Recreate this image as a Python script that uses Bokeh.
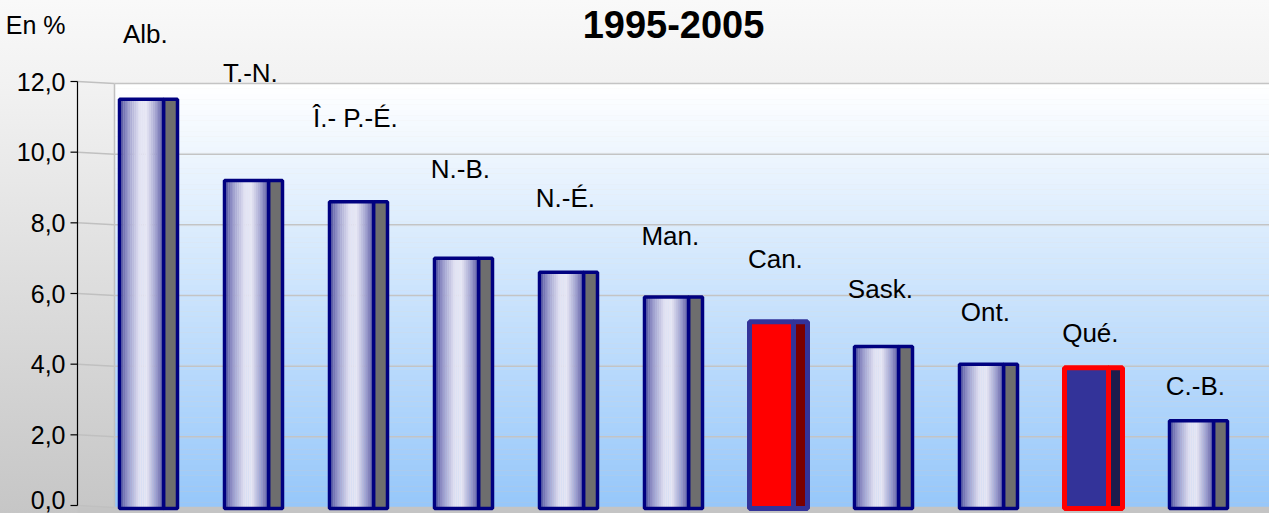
import numpy as np
from bokeh.plotting import figure
from bokeh.models import Range1d, FixedTicker, CustomJSTickFormatter, Label, ColumnDataSource
from bokeh.embed import file_html
from bokeh.resources import INLINE
from bokeh.core.properties import value

# ---------------- data ----------------
categories = ["Alb.", "T.-N.", "Î.- P.-É.", "N.-B.", "N.-É.", "Man.", "Can.", "Sask.", "Ont.", "Qué.", "C.-B."]
values = [11.5, 9.2, 8.6, 7.0, 6.6, 5.9, 5.2, 4.5, 4.0, 3.9, 2.4]
y_ticks = [0, 2, 4, 6, 8, 10, 12]
title_text = "1995-2005"
unit_text = "En %"

# ---------------- layout ----------------
W, H = 1269, 513
LEFT = 70                     # frame starts where the tick marks start
PX_X = 105.0                  # px per category
PX_Y = 424.0 / 12.0           # px per unit
ZERO_PX = 505.0               # screen y of value 0
x_start = -(148.0 - LEFT) / PX_X
x_end = x_start + (W - LEFT) / PX_X
y_start = -(H - ZERO_PX) / PX_Y
y_end = ZERO_PX / PX_Y
axis_x = x_start + 7.0 / PX_X
wall_left = x_start + 44.0 / PX_X
wall_top = max(y_ticks)
drop = 2.0 / PX_Y             # perspective drop of the grid on the wall
unit_pos = (ZERO_PX - 24.0) / PX_Y

# label vertical centres (layout, screen px from the top)
label_mid_px = [33, 72, 117, 168, 197, 235, 258, 288, 311, 332, 385]
label_mid = [(ZERO_PX - v) / PX_Y for v in label_mid_px]

FONT = "Liberation Sans"

p = figure(width=W, height=H, x_range=Range1d(x_start, x_end), y_range=Range1d(y_start, y_end),
           output_backend="svg", toolbar_location=None, x_axis_type=None,
           min_border_left=LEFT, min_border_right=0, min_border_top=0, min_border_bottom=0)
p.border_fill_color = None
p.background_fill_color = None
p.outline_line_color = None
p.styles = {"background": "linear-gradient(to bottom, #f9f9f9 0%, #f1f1f1 18%, #c6c6c6 100%)"}
p.ygrid.visible = False

# wall gradient (white top -> light blue bottom)
n = 80
edges = np.linspace(0, wall_top, n + 1)
top_c = np.array([255, 255, 255])
bot_c = np.array([150, 199, 250])
cols = []
for k in range(n):
    t = (edges[k] + edges[k + 1]) / 2 / wall_top
    c = bot_c + (top_c - bot_c) * t
    cols.append("#%02x%02x%02x" % tuple(int(round(v)) for v in c))
p.quad(left=wall_left, right=x_end, bottom=edges[:-1] - drop, top=edges[1:] - drop, fill_color=cols,
       line_color=None, level="image")

# floor
p.quad(left=[axis_x], right=[x_end], bottom=[y_start], top=[0 - drop], fill_color="#c4c4c4",
       line_color=None, level="image")

# wall left edge
p.segment(x0=[wall_left], y0=[0 - drop], x1=[wall_left], y1=[wall_top - drop], line_color="#c0c0c0",
          line_width=1.5, level="underlay")

# grid lines (slanted part from the axis to the wall, then flat on the wall)
gy = np.array(y_ticks, dtype=float)
p.segment(x0=[axis_x] * len(gy), y0=gy, x1=[wall_left] * len(gy), y1=gy - drop,
          line_color="#c0c0c0", line_width=1.5, level="underlay")
p.segment(x0=[wall_left] * len(gy), y0=gy - drop, x1=[x_end] * len(gy), y1=gy - drop,
          line_color="#c4c4c4", line_width=1.5, level="underlay")

# axis line and tick marks
p.segment(x0=[axis_x], y0=[min(y_ticks)], x1=[axis_x], y1=[max(y_ticks)], line_color="black",
          line_width=1.2, level="guide")
p.segment(x0=[x_start] * len(gy), y0=gy, x1=[axis_x] * len(gy), y1=gy, line_color="black",
          line_width=1.2, level="guide")

# axis labels
ax = p.yaxis[0]
ax.ticker = FixedTicker(ticks=y_ticks + [unit_pos])
ax.formatter = CustomJSTickFormatter(
    args=dict(unit=unit_text, lim=max(y_ticks) + 0.5),
    code="if (tick > lim) { return unit; } return tick.toFixed(1).replace('.', ',');")
ax.axis_line_color = None
ax.major_tick_line_color = None
ax.major_tick_out = 0
ax.major_tick_in = 0
ax.minor_tick_line_color = None
ax.major_label_text_font = FONT
ax.major_label_text_font_size = "25px"
ax.major_label_text_color = "black"
ax.major_label_standoff = 5

# bars
L_OFF, M_OFF, R_OFF = -29.0 / PX_X, 15.0 / PX_X, 29.0 / PX_X
styles = {
    "Can.": dict(solid="#ff0000", side="#7a0000", line="#333399", lw=5),
    "Qué.": dict(solid="#333399", side="#1c1c4c", line="#ff0000", lw=5),
}
default = dict(solid=None, side="#6e6e6e", line="#000080", lw=3.5)

stops_t = [0.0, 0.15, 0.45, 0.62, 0.85, 1.0]
stops_c = [(70, 70, 150), (140, 140, 195), (226, 226, 242), (230, 230, 244), (150, 150, 200), (95, 95, 165)]


def grad(t):
    for j in range(len(stops_t) - 1):
        if stops_t[j] <= t <= stops_t[j + 1]:
            f = (t - stops_t[j]) / (stops_t[j + 1] - stops_t[j])
            a, b = stops_c[j], stops_c[j + 1]
            return "#%02x%02x%02x" % tuple(int(round(a[m] + (b[m] - a[m]) * f)) for m in range(3))
    return "#%02x%02x%02x" % stops_c[-1]


xs = list(range(len(categories)))
side = dict(l=[], r=[], t=[], fc=[], lc=[], lw=[])
strips = dict(l=[], r=[], t=[], fc=[])
outl = dict(l=[], r=[], t=[], lc=[], lw=[])
ns = 24
for i, (cat, v) in enumerate(zip(categories, values)):
    st = styles.get(cat, default)
    x = xs[i]
    side["l"].append(x + M_OFF); side["r"].append(x + R_OFF); side["t"].append(v)
    side["fc"].append(st["side"]); side["lc"].append(st["line"]); side["lw"].append(st["lw"])
    if st["solid"] is None:
        e = np.linspace(x + L_OFF, x + M_OFF, ns + 1)
        for k in range(ns):
            strips["l"].append(e[k]); strips["r"].append(e[k + 1] + 0.002); strips["t"].append(v)
            strips["fc"].append(grad((k + 0.5) / ns))
    else:
        strips["l"].append(x + L_OFF); strips["r"].append(x + M_OFF); strips["t"].append(v)
        strips["fc"].append(st["solid"])
    outl["l"].append(x + L_OFF); outl["r"].append(x + M_OFF); outl["t"].append(v)
    outl["lc"].append(st["line"]); outl["lw"].append(st["lw"])

bar_bottom = -drop * 1.5
s_side = ColumnDataSource(side)
p.quad(left="l", right="r", bottom=bar_bottom, top="t", fill_color="fc", line_color="lc",
       line_width="lw", source=s_side)
s_strip = ColumnDataSource(strips)
p.quad(left="l", right="r", bottom=bar_bottom, top="t", fill_color="fc", line_color=None, source=s_strip)
s_out = ColumnDataSource(outl)
p.quad(left="l", right="r", bottom=bar_bottom, top="t", fill_color=None, line_color="lc",
       line_width="lw", source=s_out)

# category labels
p.text(x=[x - 0.03 for x in xs], y=label_mid, text=categories, text_font=value(FONT),
       text_font_size="26px", text_color="black", text_align="center", text_baseline="middle")

# title
p.add_layout(Label(x=(len(categories) - 1) / 2, y=(ZERO_PX - 23.5) / PX_Y, text=title_text,
                   text_font=FONT, text_font_size="38px", text_font_style="bold",
                   text_align="center", text_baseline="middle", text_color="black"))

open("out.html", "w").write(file_html(p, INLINE))
